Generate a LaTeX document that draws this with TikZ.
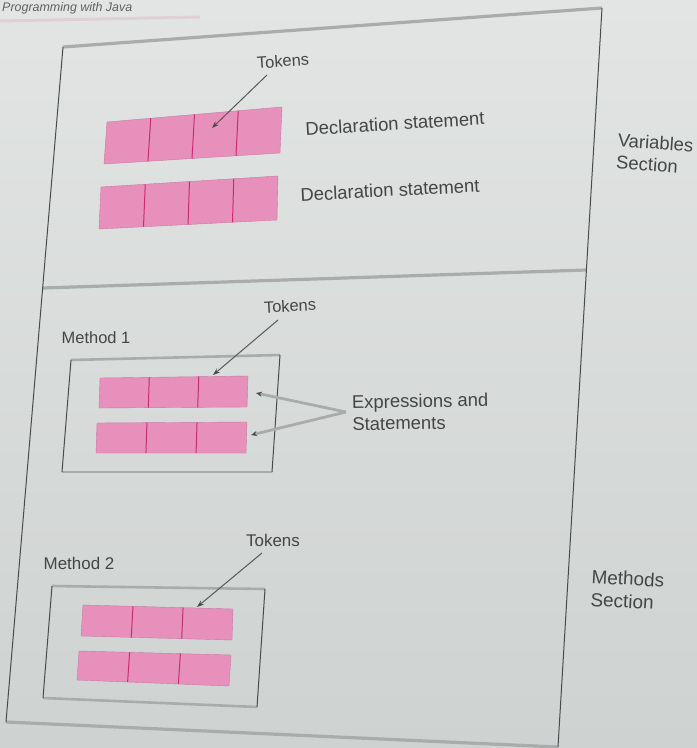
\documentclass[tikz,border=0pt]{standalone}
\usepackage{fontspec}
\setmainfont{Liberation Sans}
\usetikzlibrary{arrows.meta,calc}
\definecolor{pagetop}{RGB}{226,229,228}
\definecolor{pagebot}{RGB}{206,210,209}
\definecolor{tokpink}{RGB}{232,144,188}
\definecolor{cellline}{RGB}{200,45,115}
\definecolor{edgegray}{RGB}{168,172,172}
\definecolor{inkgray}{RGB}{72,75,75}
\definecolor{txtgray}{RGB}{68,70,70}
\definecolor{headpink}{RGB}{224,208,214}
\newcommand\tokrow[6]{%
  \coordinate (#1-tl) at #2;
  \coordinate (#1-tr) at #3;
  \coordinate (#1-br) at #4;
  \coordinate (#1-bl) at #5;
  \path[rowfill] (#1-tl) -- (#1-tr) -- (#1-br) -- (#1-bl) -- cycle;
  \foreach \f in {#6} {\draw[cellsep] ($(#1-tl)!\f!(#1-tr)$) -- ($(#1-bl)!\f!(#1-br)$);}
}
\begin{document}
\begin{tikzpicture}[x=1bp,y=-1bp,
  shadeedge/.style={draw=edgegray,line width=3.2bp},
  thinedge/.style={draw=inkgray,line width=1bp},
  rowfill/.style={fill=tokpink,draw=tokpink!85!black,line width=0.4bp},
  cellsep/.style={draw=cellline,line width=1bp},
  lbl/.style={text=txtgray,inner sep=0pt,font=\fontsize{18.5}{22}\selectfont},
  smalllbl/.style={text=txtgray,inner sep=0pt,font=\fontsize{16.5}{20}\selectfont},
  tokarrow/.style={draw=gray!70!black,line width=1bp,-{Stealth[length=7bp,width=5bp,color=inkgray]}},
  exparrow/.style={draw=edgegray,line width=2.8bp,-{Stealth[length=6bp,width=5bp,color=inkgray]}},
]
\path[use as bounding box] (0,0) rectangle (697,748);
\shade[top color=pagetop,bottom color=pagebot] (0,0) rectangle (697,748);

% running header
\draw[headpink,line width=3bp] (0,21) -- (200,17);
\node[anchor=base west,inner sep=0pt,text=txtgray!85,font=\itshape\fontsize{12.5}{15}\selectfont] (header) at (2,12) {Programming with Java};

% outer frame
\coordinate (O-tl) at (63,47);
\coordinate (O-tr) at (602,8);
\coordinate (O-br) at (558,747);
\coordinate (O-bl) at (6,722);
\coordinate (div-l) at (43,288);
\coordinate (div-r) at (586,270);
\draw[shadeedge] (O-tl) -- (O-tr);
\draw[shadeedge] (O-bl) -- (O-br);
\draw[shadeedge] (div-l) -- (div-r);
\draw[thinedge] (O-tl) -- (O-bl);
\draw[thinedge] (O-tr) -- (O-br);

% variables section
\tokrow{D1}{(107,122)}{(282,107)}{(280,153)}{(104,164)}{0.25,0.5,0.75}
\tokrow{D2}{(101,187)}{(278,176)}{(277,220)}{(99,229)}{0.25,0.5,0.75}
\node[smalllbl,rotate=4] (tok1) at (283,61) {Tokens};
\coordinate (tok1-s) at (267,75);
\coordinate (tok1-t) at (212,128);
\draw[tokarrow] (tok1-s) -- (tok1-t);
\node[lbl,rotate=3.5] (decl1) at (395,123.5) {Declaration statement};
\node[lbl,rotate=3] (decl2) at (390,190) {Declaration statement};
\node[lbl,rotate=-4,anchor=west,align=left] (varsec) at (617,151) {Variables\\Section};

% method 1
\coordinate (M1-tl) at (71,360);
\coordinate (M1-tr) at (280,355);
\coordinate (M1-br) at (272,472);
\coordinate (M1-bl) at (62,472);
\draw[shadeedge,line width=2.6bp] (M1-tl) -- (M1-tr);
\draw[shadeedge,line width=2.6bp] (M1-bl) -- (M1-br);
\draw[thinedge] (M1-tl) -- (M1-bl);
\draw[thinedge] (M1-tr) -- (M1-br);
\node[smalllbl] (meth1) at (96,338) {Method 1};
\tokrow{E1}{(100,378)}{(248,376)}{(247,407)}{(99,408)}{0.333,0.667}
\tokrow{E2}{(97,423)}{(247,422)}{(246,453)}{(96,453)}{0.333,0.667}
\node[smalllbl,rotate=3] (tok2) at (290,306) {Tokens};
\coordinate (tok2-s) at (278,320);
\coordinate (tok2-t) at (213,375);
\draw[tokarrow] (tok2-s) -- (tok2-t);
\node[lbl,rotate=1,anchor=west,align=left] (expr) at (352,413) {Expressions and\\Statements};
\coordinate (expr-s) at (346,412);
\coordinate (expr-t1) at (256,393);
\coordinate (expr-t2) at (251,435);
\draw[exparrow] (expr-s) -- (expr-t1);
\draw[exparrow] (expr-s) -- (expr-t2);

% method 2
\coordinate (M2-tl) at (52,586);
\coordinate (M2-tr) at (265,589);
\coordinate (M2-br) at (257,707);
\coordinate (M2-bl) at (43,698);
\draw[shadeedge,line width=2.6bp] (M2-tl) -- (M2-tr);
\draw[shadeedge,line width=2.6bp] (M2-bl) -- (M2-br);
\draw[thinedge] (M2-tl) -- (M2-bl);
\draw[thinedge] (M2-tr) -- (M2-br);
\node[smalllbl,font=\fontsize{17}{20}\selectfont] (meth2) at (79,563) {Method 2};
\tokrow{F1}{(83,605)}{(233,609)}{(232,640)}{(81,636)}{0.333,0.667}
\tokrow{F2}{(79,651)}{(231,655)}{(229,686)}{(77,680)}{0.333,0.667}
\node[smalllbl,font=\fontsize{17}{20}\selectfont] (tok3) at (273,540) {Tokens};
\coordinate (tok3-s) at (262,553);
\coordinate (tok3-t) at (197,607);
\draw[tokarrow] (tok3-s) -- (tok3-t);
\node[lbl,font=\fontsize{19}{23}\selectfont,rotate=-3,anchor=west,align=left] (methsec) at (591,588) {Methods\\Section};
\end{tikzpicture}
\end{document}
